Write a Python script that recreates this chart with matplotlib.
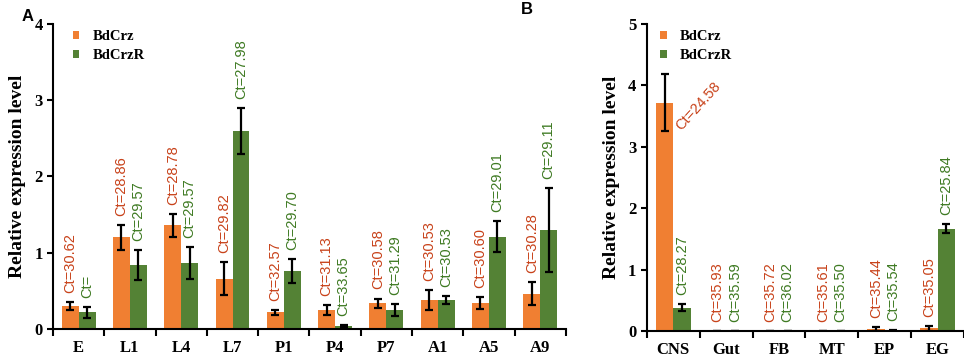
import numpy as np
import matplotlib.pyplot as plt
from matplotlib.ticker import FixedLocator

# Panel A: developmental stages
stages = ["E", "L1", "L4", "L7", "P1", "P4", "P7", "A1", "A5", "A9"]
crz_stage = [0.30, 1.20, 1.36, 0.66, 0.22, 0.25, 0.34, 0.38, 0.34, 0.46]
crz_stage_err = [0.05, 0.16, 0.15, 0.22, 0.03, 0.07, 0.06, 0.13, 0.08, 0.15]
crzr_stage = [0.22, 0.84, 0.86, 2.60, 0.76, 0.04, 0.25, 0.38, 1.21, 1.30]
crzr_stage_err = [0.07, 0.20, 0.21, 0.30, 0.16, 0.01, 0.08, 0.05, 0.20, 0.55]
crz_stage_ct = ["Ct=30.62", "Ct=28.86", "Ct=28.78", "Ct=29.82", "Ct=32.57",
                "Ct=31.13", "Ct=30.58", "Ct=30.53", "Ct=30.60", "Ct=30.28"]
crzr_stage_ct = ["Ct=", "Ct=29.57", "Ct=29.57", "Ct=27.98", "Ct=29.70",
                 "Ct=33.65", "Ct=31.29", "Ct=30.53", "Ct=29.01", "Ct=29.11"]

# Panel B: tissues
tissues = ["CNS", "Gut", "FB", "MT", "EP", "EG"]
crz_tissue = [3.72, 0.005, 0.005, 0.005, 0.03, 0.05]
crz_tissue_err = [0.46, 0.005, 0.005, 0.005, 0.03, 0.04]
crzr_tissue = [0.38, 0.005, 0.005, 0.005, 0.01, 1.67]
crzr_tissue_err = [0.06, 0.005, 0.005, 0.005, 0.01, 0.07]
crz_tissue_ct = ["Ct=24.58", "Ct=35.93", "Ct=35.72", "Ct=35.61", "Ct=35.44", "Ct=35.05"]
crzr_tissue_ct = ["Ct=28.27", "Ct=35.59", "Ct=36.02", "Ct=35.50", "Ct=35.54", "Ct=25.84"]

orange = "#F07F32"
green = "#548235"
orange_txt = "#C8421A"
green_txt = "#3E7A22"
serif = "Liberation Serif"
sans = "Liberation Sans"

fig = plt.figure(figsize=(9.64, 3.58), dpi=100)
axA = fig.add_axes([0.055, 0.081, 0.532, 0.852])
axB = fig.add_axes([0.671, 0.075, 0.329, 0.858])

bar_w = 0.33


def draw_panel(ax, cats, v1, e1, v2, e2, ct1, ct2, ymax, skip_first_orange=False):
    x = np.arange(len(cats))
    ax.bar(x - bar_w / 2, v1, width=bar_w, color=orange, label="BdCrz")
    ax.bar(x + bar_w / 2, v2, width=bar_w, color=green, label="BdCrzR")
    ax.errorbar(x - bar_w / 2, v1, yerr=e1, fmt="none", ecolor="black",
                elinewidth=1.6, capsize=3, capthick=1.6)
    ax.errorbar(x + bar_w / 2, v2, yerr=e2, fmt="none", ecolor="black",
                elinewidth=1.6, capsize=3, capthick=1.6)
    for i in range(len(cats)):
        if not (skip_first_orange and i == 0):
            ax.annotate(ct1[i], (x[i] - bar_w / 2, v1[i] + e1[i]), xytext=(0, 6.5),
                        textcoords="offset points", rotation=90, ha="center", va="bottom",
                        color=orange_txt, fontsize=10.5, family=sans)
        ax.annotate(ct2[i], (x[i] + bar_w / 2, v2[i] + e2[i]), xytext=(0, 6.5),
                    textcoords="offset points", rotation=90, ha="center", va="bottom",
                    color=green_txt, fontsize=10.5, family=sans)

    ax.set_xlim(-0.5, len(cats) - 0.5)
    ax.set_ylim(0, ymax)
    ax.set_yticks(range(ymax + 1))
    ax.set_xticks(x)
    ax.set_xticklabels(cats, fontsize=12, fontweight="bold", family=serif)
    ax.xaxis.set_minor_locator(FixedLocator(np.arange(-0.5, len(cats), 1.0)))
    ax.tick_params(axis="x", which="major", length=0, pad=8)
    ax.tick_params(axis="x", which="minor", length=5, width=1.5, direction="out")
    ax.tick_params(axis="y", length=4, width=1.5, direction="out")
    for lab in ax.get_yticklabels():
        lab.set_fontsize(12)
        lab.set_fontweight("bold")
        lab.set_family(serif)
    ax.spines["top"].set_visible(False)
    ax.spines["right"].set_visible(False)
    ax.spines["left"].set_linewidth(1.5)
    ax.spines["bottom"].set_linewidth(1.5)
    ax.set_ylabel("Relative expression level", fontsize=14, fontweight="bold", family=serif)
    ax.legend(loc="upper left", bbox_to_anchor=(0.033, 0.99), borderaxespad=0, borderpad=0.2,
              frameon=False, handlelength=0.45, handleheight=0.45, handletextpad=0.9,
              labelspacing=0.4, prop={"family": serif, "weight": "bold", "size": 10.5})
    return x


draw_panel(axA, stages, crz_stage, crz_stage_err, crzr_stage, crzr_stage_err,
           crz_stage_ct, crzr_stage_ct, 4)
xB = draw_panel(axB, tissues, crz_tissue, crz_tissue_err, crzr_tissue, crzr_tissue_err,
                crz_tissue_ct, crzr_tissue_ct, 5, skip_first_orange=True)
axA.yaxis.labelpad = 6
axB.yaxis.labelpad = 6

# CNS label is drawn slanted beside the bar
axB.text(xB[0] + 0.2, 3.22, crz_tissue_ct[0], rotation=48, ha="left", va="bottom",
         rotation_mode="anchor", color=orange_txt, fontsize=10.5, family=sans)

fig.text(0.022, 0.94, "A", fontsize=12, fontweight="bold", family=sans)
fig.text(0.54, 0.96, "B", fontsize=12, fontweight="bold", family=sans)

fig.savefig("out.png", dpi=100)
